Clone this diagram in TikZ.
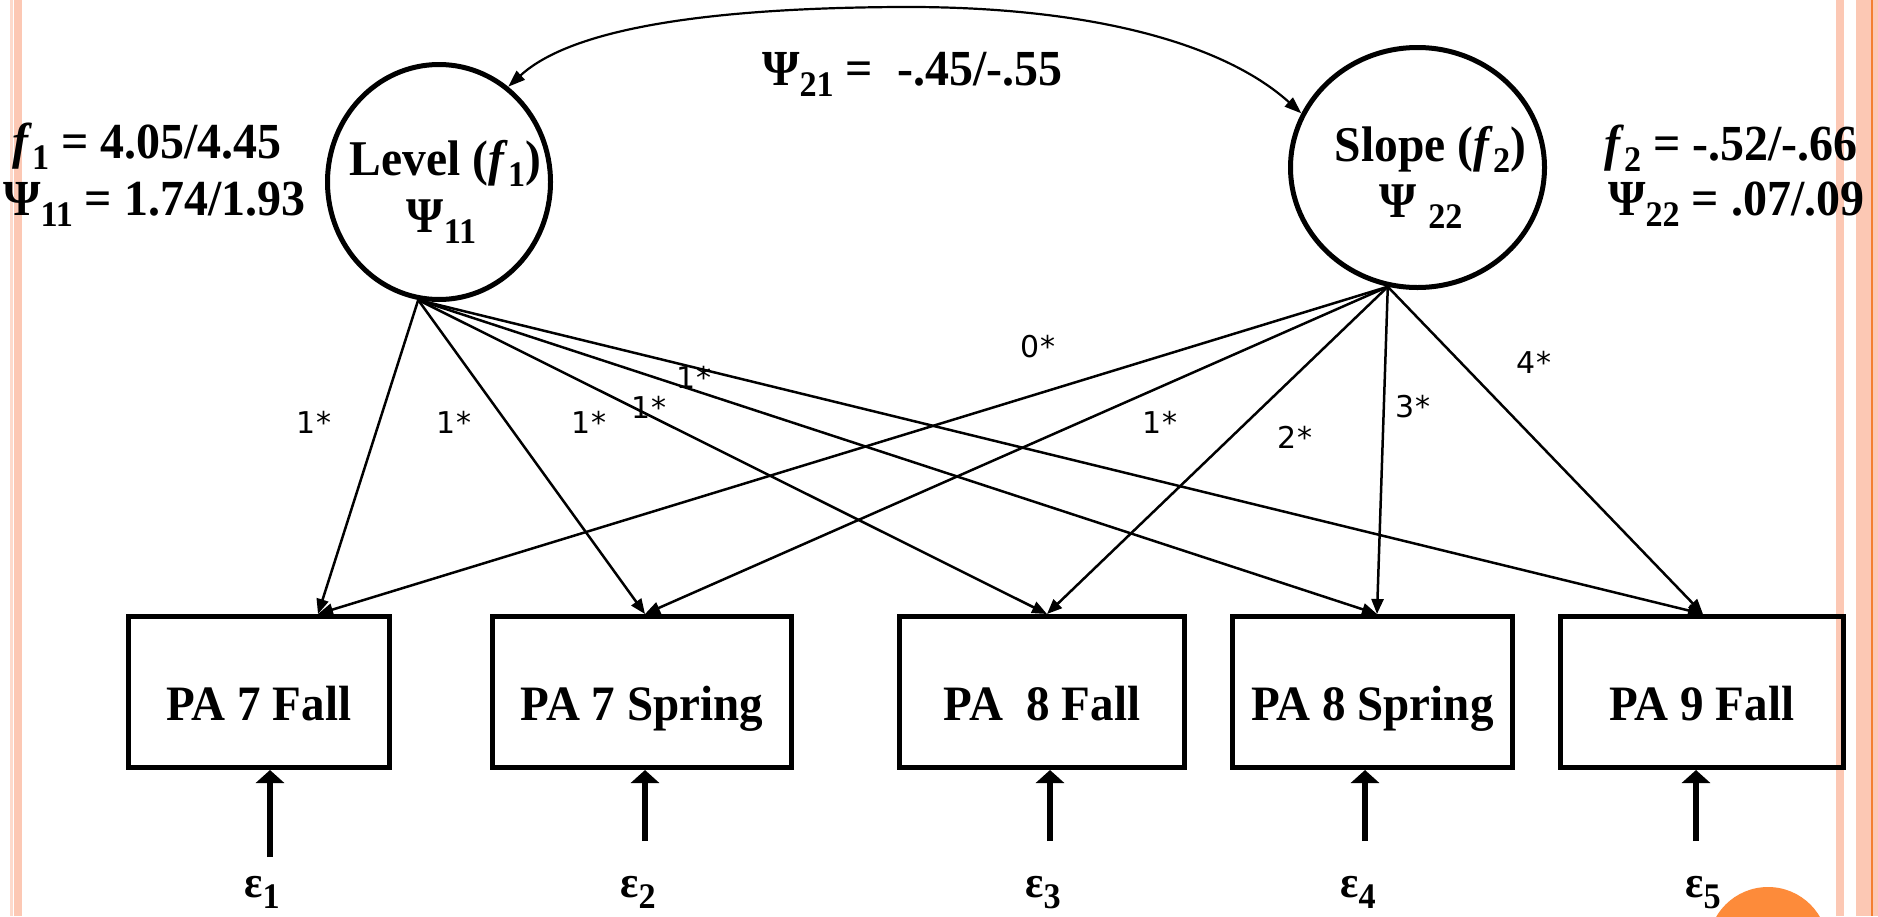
\documentclass[tikz,border=0pt]{standalone}
\usepackage{fontspec}
\setmainfont{Liberation Serif}[FakeStretch=0.95]
\newfontfamily\coeffont{DejaVu Sans}
\usetikzlibrary{shapes.geometric,arrows.meta}

\definecolor{stripe}{RGB}{252,200,180}
\definecolor{stripelight}{RGB}{253,218,204}
\definecolor{stripeline}{RGB}{244,128,48}
\definecolor{accent}{RGB}{253,139,58}

% lowered, smaller subscript in the running font
\newcommand\sub[1]{\raisebox{-11pt}{\fontsize{36}{36}\selectfont #1}}
% text of zero size, shifted right by #1 and raised by #2
\newcommand\placed[3]{\raisebox{#2}[0pt][0pt]{\makebox[0pt]{\hspace{#1}#3\hspace{-#1}}}}

\begin{document}
\begin{tikzpicture}[x=1pt,y=-1pt,
  big/.style={font=\fontsize{50.5}{58}\selectfont\bfseries, inner sep=0pt},
  eps/.style={font=\fontsize{45}{50}\selectfont\bfseries, inner sep=0pt, anchor=base},
  latent/.style={ellipse, draw, line width=5pt, inner sep=0pt,
    font=\fontsize{50}{58}\selectfont\bfseries},
  obs/.style={rectangle, draw, line width=5pt, inner sep=0pt, minimum height=151pt,
    font=\fontsize{49.5}{56}\selectfont\bfseries},
  load/.style={line width=2.5pt, -{Triangle[length=15pt,width=12pt]}},
  cov/.style={line width=2.2pt, {Triangle[length=17pt,width=12pt]}-{Triangle[length=17pt,width=12pt]}},
  err/.style={line width=6pt, -{Triangle[length=13pt,width=28pt]}},
  coef/.style={font=\coeffont\fontsize{30}{32}\selectfont, inner sep=0pt}]

\useasboundingbox (0,0) rectangle (1878,916);
\fill[white] (0,0) rectangle (1878,916);

% page edge stripes
\fill[stripelight] (10,0) rectangle (12.5,916);
\fill[stripe] (13.5,0) rectangle (22,916);
\fill[stripe] (1836,0) rectangle (1844,916);
\fill[stripe] (1856,0) rectangle (1878,916);
\fill[stripeline] (1871,0) rectangle (1873,916);
\fill[accent] (1768,947) circle[radius=60pt];

% latent growth factors
\node[latent, minimum width=223pt, minimum height=235pt] (level) at (439,182)
  {\placed{6.5pt}{7pt}{Level (\textit{f}\sub{1})}\placed{2.5pt}{-50pt}{Ψ\sub{11}}};
\node[latent, minimum width=254pt, minimum height=240pt] (slope) at (1417.5,167.5)
  {\placed{13pt}{6.5pt}{Slope (\textit{f}\sub{2})}\placed{3.5pt}{-49.5pt}{Ψ\ \sub{22}}};

% factor means and variances
\node[big, anchor=base west] (m1) at (12,158) {\textit{f}\sub{1} = 4.05/4.45};
\node[big, anchor=base west] (v1) at (3,215) {Ψ\sub{11} = 1.74/1.93};
\node[big, anchor=base west] (c21) at (762,85) {Ψ\sub{21} =\ \ -.45/-.55};
\node[big, anchor=base west] (m2) at (1604,160) {\textit{f}\sub{2} = -.52/-.66};
\node[big, anchor=base west] (v2) at (1608,215) {Ψ\sub{22} = .07/.09};

% observed measures
\node[obs, minimum width=261pt] (b1) at (259,692) {\placed{0pt}{-28pt}{PA 7 Fall}};
\node[obs, minimum width=299pt] (b2) at (642,692) {\placed{0pt}{-28pt}{PA 7 Spring}};
\node[obs, minimum width=285pt] (b3) at (1042,692) {\placed{0pt}{-28pt}{PA\ \ 8 Fall}};
\node[obs, minimum width=280pt] (b4) at (1372.5,692) {\placed{0pt}{-28pt}{PA 8 Spring}};
\node[obs, minimum width=283pt] (b5) at (1702,692) {\placed{0pt}{-28pt}{PA 9 Fall}};

% factor covariance
\draw[cov] (level.54) .. controls (570,30) and (700,8) .. (900,7)
  .. controls (1080,6) and (1220,40) .. (slope.155);

% loadings of the level factor
\draw[load] (level.260) -- ([xshift=59pt]b1.north);
\draw[load] (level.260) -- ([xshift=3pt]b2.north);
\draw[load] (level.260) -- ([xshift=5pt]b3.north);
\draw[load] (level.260) -- ([xshift=4.5pt]b4.north);
\draw[load] (level.260) -- ([xshift=1pt]b5.north);

% loadings of the slope factor
\draw[load] (slope.256) -- ([xshift=59pt]b1.north);
\draw[load] (slope.256) -- ([xshift=3pt]b2.north);
\draw[load] (slope.256) -- ([xshift=5pt]b3.north);
\draw[load] (slope.256) -- ([xshift=4.5pt]b4.north);
\draw[load] (slope.256) -- ([xshift=1pt]b5.north);

% loading values
\node[coef] (l1) at (314,422) {1*};
\node[coef] (l2) at (454,422) {1*};
\node[coef] (l3) at (589,422) {1*};
\node[coef] (l4) at (649,407) {1*};
\node[coef] (l5) at (694,377) {1*};
\node[coef] (s1) at (1038,347) {0*};
\node[coef] (s2) at (1160,422) {1*};
\node[coef] (s3) at (1295,437) {2*};
\node[coef] (s4) at (1413,407) {3*};
\node[coef] (s5) at (1534,362) {4*};

% residuals
\node[eps] (e1) at (262,897) {ε\sub{1}};
\node[eps] (e2) at (638,897) {ε\sub{2}};
\node[eps] (e3) at (1043,897) {ε\sub{3}};
\node[eps] (e4) at (1358,897) {ε\sub{4}};
\node[eps] (e5) at (1703,897) {ε\sub{5}};

\coordinate (u1) at (270,857);
\coordinate (u2) at (645,841);
\coordinate (u3) at (1050,841);
\coordinate (u4) at (1365,841);
\coordinate (u5) at (1696,841);
\draw[err] (u1) -- (u1 |- b1.south);
\draw[err] (u2) -- (u2 |- b2.south);
\draw[err] (u3) -- (u3 |- b3.south);
\draw[err] (u4) -- (u4 |- b4.south);
\draw[err] (u5) -- (u5 |- b5.south);
\end{tikzpicture}
\end{document}
